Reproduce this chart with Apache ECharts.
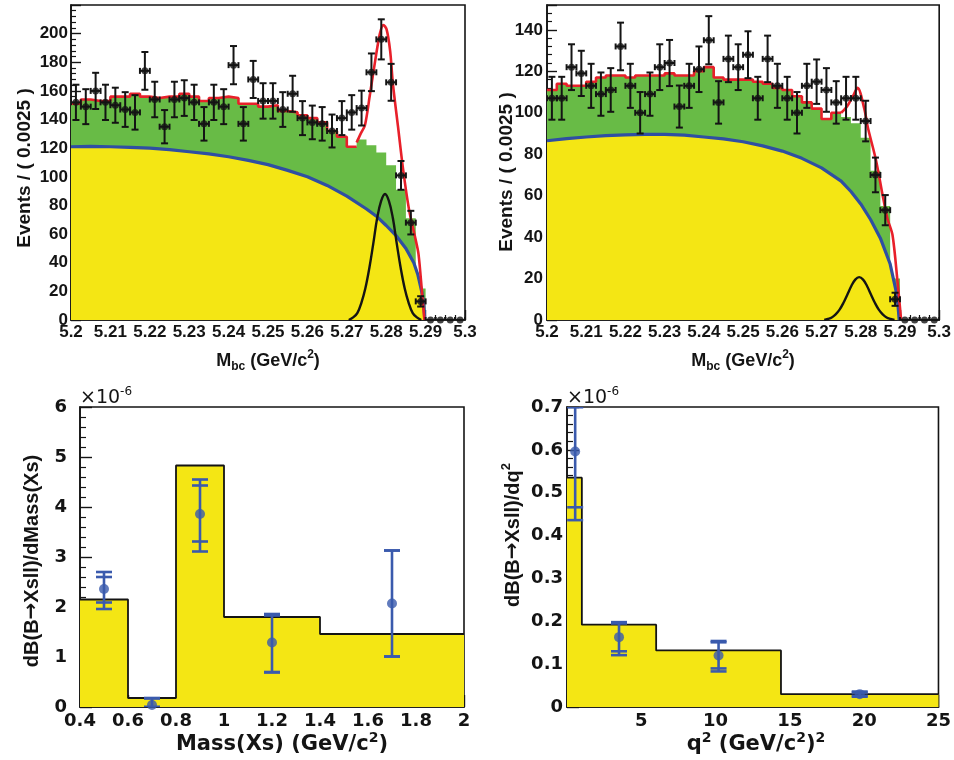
<!DOCTYPE html>
<html><head><meta charset="utf-8">
<script src="https://cdn.jsdelivr.net/npm/echarts@6/dist/echarts.min.js"></script>
<style>html,body{margin:0;padding:0;background:#fff}#c{width:954px;height:760px}</style>
</head><body><div id="c"></div>
<script>
// ---------------- DATA ----------------
// Mbc histograms: 40 bins of 0.0025 from 5.2 to 5.3
const mbcStart = 5.2;
const mbcBinWidth = 0.0025;
const eventsLeft  = [152,149,160,152,150,147,145,174,154,135,154,155,152,137,152,149,178,137,168,153,153,147,158,141,138,137,132,141,145,148,173,196,166,101,68,13,0,0,0,0];
const eventsRight = [107,107,122,119,113,109,111,132,113,100,109,122,124,103,113,121,135,105,126,122,128,107,126,113,107,100,113,115,111,105,107,107,96,70,53,10,0,0,0,0];

// total background (green, histogram, 36 bins up to 5.29)
const bkgLeft  = [151,154,153,153,156,156,158,156,155,156,156,158,156,153,155,156,155,151,151,149,150,146,145,143,141,138,132,128,121,126,122,117,108,91,71,22];
const bkgRight = [111,114,113,113,115,117,118,118,117,118,118,118,119,118,118,120,122,117,116,116,116,115,114,112,111,108,105,102,97,100,98,95,88,72,55,20];
const fitStepBinsLeft = 29;   // red fit follows background histogram for these bins
const fitStepBinsRight = 30;

// red fit curve in the signal region
const fitPeakLeft  = [[5.2725,124],[5.2735,130],[5.2746,136],[5.2759,158],[5.2772,181],[5.2784,200],[5.2793,206],[5.2801,203],[5.281,188],[5.2817,165],[5.283,135],[5.2843,105],[5.2858,77],[5.2874,57],[5.2882,46],[5.2891,19],[5.2897,0]];
const fitPeakRight = [[5.275,100],[5.2765,103],[5.278,108],[5.2792,112],[5.2809,102],[5.2818,93],[5.2839,77],[5.2856,60],[5.2868,49],[5.2881,41],[5.2894,18],[5.2903,0]];

// combinatorial background (yellow, ARGUS)
const argusLeft  = [[5.2,121],[5.205,121.2],[5.21,121],[5.215,120.6],[5.22,120],[5.225,119],[5.23,117.5],[5.235,116],[5.24,114],[5.245,111.5],[5.25,108.5],[5.255,104.5],[5.26,100],[5.265,94],[5.27,86.5],[5.275,77.5],[5.2775,72.5],[5.28,66],[5.2825,59],[5.285,50],[5.287,40],[5.288,32],[5.289,20],[5.2895,12],[5.2898,0]];
const argusRight = [[5.2,86.5],[5.205,87.5],[5.21,88.3],[5.215,89],[5.22,89.3],[5.225,89.6],[5.23,89.6],[5.235,89.2],[5.24,88.3],[5.245,87.4],[5.25,86],[5.255,84],[5.26,81.5],[5.265,78],[5.27,73.4],[5.275,67],[5.2775,62],[5.28,56],[5.2825,48.5],[5.285,39.5],[5.2875,27],[5.289,14],[5.2895,7],[5.2898,0]];

// signal (black Gaussian)
const signalLeft  = [[5.2705,0],[5.2717,2],[5.2727,5],[5.2737,12],[5.2747,22],[5.2757,36],[5.2767,53],[5.2777,71],[5.2787,83],[5.2797,88],[5.2807,83],[5.2817,71],[5.2827,53],[5.2837,36],[5.2847,22],[5.2857,12],[5.2867,5],[5.2877,2],[5.2889,0]];
const signalRight = [[5.2707,0],[5.2716,0.5],[5.2726,1.2],[5.2736,2.7],[5.2746,5],[5.2756,8.3],[5.2766,12.3],[5.2776,16.4],[5.2786,19.5],[5.2796,20.7],[5.2806,19.5],[5.2816,16.4],[5.2826,12.3],[5.2836,8.3],[5.2846,5],[5.2856,2.7],[5.2866,1.2],[5.2876,0.5],[5.2886,0]];

// dB/dMass(Xs)  (units 1e-6)
const massEdges = [0.4,0.6,0.8,1.0,1.4,2.0];
const massModel = [2.15,0.18,4.83,1.80,1.46];
const massX      = [0.5,0.7,0.9,1.2,1.7];
const massY      = [2.36,0.04,3.86,1.29,2.07];
const massTotLo  = [1.96,0.00,3.11,0.69,1.01];
const massStatLo = [2.09,0.00,3.31,0.70,1.01];
const massStatHi = [2.60,0.17,4.43,1.83,3.13];
const massTotHi  = [2.70,0.18,4.55,1.86,3.13];

// dB/dq2 (units 1e-6)
const q2Edges = [0,1,6,14.4,25];
const q2Model = [0.535,0.192,0.132,0.030];
const q2X      = [0.55,3.5,10.2,19.7];
const q2Y      = [0.596,0.163,0.120,0.030];
const q2TotLo  = [0.436,0.121,0.083,0.024];
const q2StatLo = [0.466,0.130,0.090,0.026];
const q2StatHi = [0.700,0.195,0.151,0.034];
const q2TotHi  = [0.700,0.198,0.154,0.036];

// ---------------- BUILD ----------------
const YEL = '#f4e614', GRN = '#68bb46', RED = '#e8202a', BLU = '#2f4fa2', PBLU = '#3a5aad', BLK = '#141414';
const FT = 'Liberation Sans', FB = 'DejaVu Sans';

function stepData(start, w, vals, n) {
  const out = [];
  for (let i = 0; i < n; i++) out.push([start + i * w, vals[i]]);
  out.push([start + n * w, vals[n - 1]]);
  return out;
}
function edgeStep(edges, vals) {
  const out = edges.slice(0, -1).map((e, i) => [e, vals[i]]);
  out.push([edges[edges.length - 1], vals[vals.length - 1]]);
  return out;
}
function pointsData(ev) {
  return ev.map((v, i) => [mbcStart + (i + 0.5) * mbcBinWidth, v, Math.sqrt(v), mbcBinWidth / 2]);
}

function mbcErr(params, api) {
  const x = api.value(0), y = api.value(1), e = api.value(2), hw = api.value(3);
  const p = api.coord([x, y]), pl = api.coord([x - hw, y]), pr = api.coord([x + hw, y]);
  const st = { stroke: BLK, lineWidth: 2 };
  const ch = [
    { type: 'line', shape: { x1: pl[0], y1: p[1], x2: pr[0], y2: p[1] }, style: st },
    { type: 'line', shape: { x1: pl[0], y1: p[1] - 3, x2: pl[0], y2: p[1] + 3 }, style: st },
    { type: 'line', shape: { x1: pr[0], y1: p[1] - 3, x2: pr[0], y2: p[1] + 3 }, style: st }
  ];
  if (e > 0) {
    const pt = api.coord([x, y + e]), pb = api.coord([x, y - e]);
    ch.push({ type: 'line', shape: { x1: p[0], y1: pt[1], x2: p[0], y2: pb[1] }, style: st });
    ch.push({ type: 'line', shape: { x1: p[0] - 3.5, y1: pt[1], x2: p[0] + 3.5, y2: pt[1] }, style: st });
    ch.push({ type: 'line', shape: { x1: p[0] - 3.5, y1: pb[1], x2: p[0] + 3.5, y2: pb[1] }, style: st });
  }
  return { type: 'group', children: ch };
}
function resErr(params, api) {
  const x = api.value(0);
  const ys = [api.value(1), api.value(2), api.value(3), api.value(4)].map(v => api.coord([x, v])[1]);
  const cx = api.coord([x, 0])[0];
  const st = { stroke: PBLU, lineWidth: 2.6 };
  const ch = [{ type: 'line', shape: { x1: cx, y1: ys[0], x2: cx, y2: ys[3] }, style: st }];
  ys.forEach(yy => ch.push({ type: 'line', shape: { x1: cx - 8, y1: yy, x2: cx + 8, y2: yy }, style: st }));
  return { type: 'group', children: ch };
}

function axis(gi, o) {
  return Object.assign({
    gridIndex: gi, type: 'value',
    axisLine: { show: true, onZero: false, lineStyle: { color: BLK, width: 1.6 } },
    axisTick: { show: true, inside: true, length: o.tick, lineStyle: { color: BLK, width: 1.4 } },
    minorTick: { show: true, splitNumber: o.minor, length: o.tick / 2, lineStyle: { color: BLK, width: 1.2 } },
    splitLine: { show: false },
    axisLabel: { fontFamily: o.font, fontSize: o.fs, fontWeight: 'bold', color: BLK, margin: o.margin, hideOverlap: false, showMinLabel: true, formatter: o.fmt }
  }, o.extra);
}

const mbcFmt = v => String(Number(v.toFixed(2)));
const xAxis = [
  axis(0, { tick: 10, minor: 4, font: FT, fs: 17, margin: 4, fmt: mbcFmt, extra: { min: 5.2, max: 5.3, interval: 0.01 } }),
  axis(1, { tick: 10, minor: 4, font: FT, fs: 17, margin: 4, fmt: mbcFmt, extra: { min: 5.2, max: 5.3, interval: 0.01 } }),
  axis(2, { tick: 12, minor: 4, font: FB, fs: 18, margin: 5, fmt: v => String(Number(v.toFixed(1))), extra: { min: 0.4, max: 2, interval: 0.2 } }),
  axis(3, { tick: 12, minor: 5, font: FB, fs: 18, margin: 5, fmt: v => v === 0 ? '' : String(v), extra: { min: 0, max: 25, interval: 5 } })
];
const yAxis = [
  axis(0, { tick: 10, minor: 5, font: FT, fs: 17, margin: 3, fmt: v => (v <= 200 ? String(v) : ''), extra: { min: 0, max: 220, interval: 20 } }),
  axis(1, { tick: 10, minor: 5, font: FT, fs: 17, margin: 4, fmt: v => (v % 20 === 0 ? String(v) : ''), extra: { min: 0, max: 152, interval: 20 } }),
  axis(2, { tick: 12, minor: 5, font: FB, fs: 18, margin: 13, fmt: v => String(v), extra: { min: 0, max: 6, interval: 1 } }),
  axis(3, { tick: 12, minor: 5, font: FB, fs: 18, margin: 4, fmt: v => String(Number(v.toFixed(1))), extra: { min: 0, max: 0.7, interval: 0.1 } })
];
yAxis[0].axisLabel.showMaxLabel = false;
yAxis[1].axisLabel.showMaxLabel = false;

const grid = [
  { left: 71, top: 5, width: 394, height: 315 },
  { left: 547, top: 5, width: 393, height: 315 },
  { left: 80, top: 407, width: 384, height: 300 },
  { left: 567, top: 407, width: 373, height: 300 }
].map(g => Object.assign(g, { show: true, borderColor: BLK, borderWidth: 1.6, backgroundColor: 'transparent' }));

function mbcSeries(gi, bkg, nStep, fitPeak, argus, signal, events) {
  const ax = { xAxisIndex: gi, yAxisIndex: gi };
  return [
    Object.assign({ type: 'line', step: 'end', symbol: 'none', data: stepData(mbcStart, mbcBinWidth, bkg, bkg.length),
      lineStyle: { width: 0 }, areaStyle: { color: GRN, opacity: 1 }, z: 1 }, ax),
    Object.assign({ type: 'line', smooth: false, symbol: 'none', data: argus,
      lineStyle: { color: BLU, width: 3.2, join: 'round' }, areaStyle: { color: YEL, opacity: 1 }, z: 2 }, ax),
    Object.assign({ type: 'line', step: 'end', symbol: 'none', data: stepData(mbcStart, mbcBinWidth, bkg, nStep),
      lineStyle: { color: RED, width: 2.6 }, z: 3 }, ax),
    Object.assign({ type: 'line', smooth: 0.3, symbol: 'none', data: fitPeak,
      lineStyle: { color: RED, width: 2.6 }, z: 3 }, ax),
    Object.assign({ type: 'line', smooth: 0.4, symbol: 'none', data: signal,
      lineStyle: { color: BLK, width: 2.4 }, z: 4 }, ax),
    Object.assign({ type: 'custom', renderItem: mbcErr, data: pointsData(events), encode: { x: 0, y: 1 }, clip: true, z: 5 }, ax),
    Object.assign({ type: 'scatter', symbol: 'circle', symbolSize: 7, itemStyle: { color: BLK }, data: events.map((v, i) => [mbcStart + (i + 0.5) * mbcBinWidth, v]), z: 6 }, ax)
  ];
}
function resSeries(gi, edges, model, X, Y, tlo, slo, shi, thi) {
  const ax = { xAxisIndex: gi, yAxisIndex: gi };
  return [
    Object.assign({ type: 'line', step: 'end', symbol: 'none', data: edgeStep(edges, model),
      lineStyle: { color: BLK, width: 1.8 }, areaStyle: { color: YEL, opacity: 1 }, z: 1 }, ax),
    Object.assign({ type: 'custom', renderItem: resErr, clip: true, encode: { x: 0, y: 1 },
      data: X.map((x, i) => [x, tlo[i], slo[i], shi[i], thi[i]]), z: 5 }, ax),
    Object.assign({ type: 'scatter', symbol: 'circle', symbolSize: 10, itemStyle: { color: PBLU }, clip: true,
      data: X.map((x, i) => [x, Y[i]]), z: 6 }, ax)
  ];
}

const series = [].concat(
  mbcSeries(0, bkgLeft, fitStepBinsLeft, fitPeakLeft, argusLeft, signalLeft, eventsLeft),
  mbcSeries(1, bkgRight, fitStepBinsRight, fitPeakRight, argusRight, signalRight, eventsRight),
  resSeries(2, massEdges, massModel, massX, massY, massTotLo, massStatLo, massStatHi, massTotHi),
  resSeries(3, q2Edges, q2Model, q2X, q2Y, q2TotLo, q2StatLo, q2StatHi, q2TotHi)
);

function richSet(font, fs, weight) {
  const sm = Math.round(fs * 0.65);
  return {
    m: { fontFamily: font, fontSize: fs, fontWeight: weight, fill: BLK, lineHeight: fs + 6, verticalAlign: 'middle' },
    a: { fontFamily: FB, fontSize: fs, fontWeight: weight, fill: BLK, lineHeight: fs + 6, verticalAlign: 'middle' },
    s: { fontFamily: font, fontSize: sm, fontWeight: weight, fill: BLK, lineHeight: sm, verticalAlign: 'bottom' },
    p: { fontFamily: font, fontSize: sm, fontWeight: weight, fill: BLK, lineHeight: sm, verticalAlign: 'top' }
  };
}
function label(x, y, text, font, fs, rot, weight) {
  return { type: 'text', x: x, y: y, rotation: rot || 0, z: 100,
    style: { text: text, rich: richSet(font, fs, weight || 'bold'), align: 'center', verticalAlign: 'middle' } };
}
const graphic = [
  label(268, 361, '{m|M}{s|bc}{m| (GeV/c}{p|2}{m|)}', FT, 18),
  label(743, 361, '{m|M}{s|bc}{m| (GeV/c}{p|2}{m|)}', FT, 18),
  label(25, 168, '{m|Events / ( 0.0025 )}', FT, 19, Math.PI / 2),
  label(507, 172, '{m|Events / ( 0.0025 )}', FT, 19, Math.PI / 2),
  label(282, 745, '{m|Mass(Xs) (GeV/c}{p|2}{m|)}', FB, 21),
  label(756, 745, '{m|q}{p|2}{m| (GeV/c}{p|2}{m|)}{p|2}', FB, 21),
  label(32, 561, '{m|dB(B}{a|\u2192}{m|Xsll)/dMass(Xs)}', FT, 20, Math.PI / 2),
  label(513, 535, '{m|dB(B}{a|\u2192}{m|Xsll)/dq}{p|2}', FT, 20, Math.PI / 2),
  { type: 'text', x: 80, y: 398, z: 100, style: { text: '{m|\u00d710}{p|-6}', rich: richSet(FB, 19, 'normal'), align: 'left', verticalAlign: 'middle' } },
  { type: 'text', x: 567, y: 398, z: 100, style: { text: '{m|\u00d710}{p|-6}', rich: richSet(FB, 19, 'normal'), align: 'left', verticalAlign: 'middle' } }
];

const chart = echarts.init(document.getElementById('c'), null, { renderer: 'canvas' });
chart.setOption({ animation: false, backgroundColor: '#fff', grid, xAxis, yAxis, series, graphic });
</script>
</body></html>
